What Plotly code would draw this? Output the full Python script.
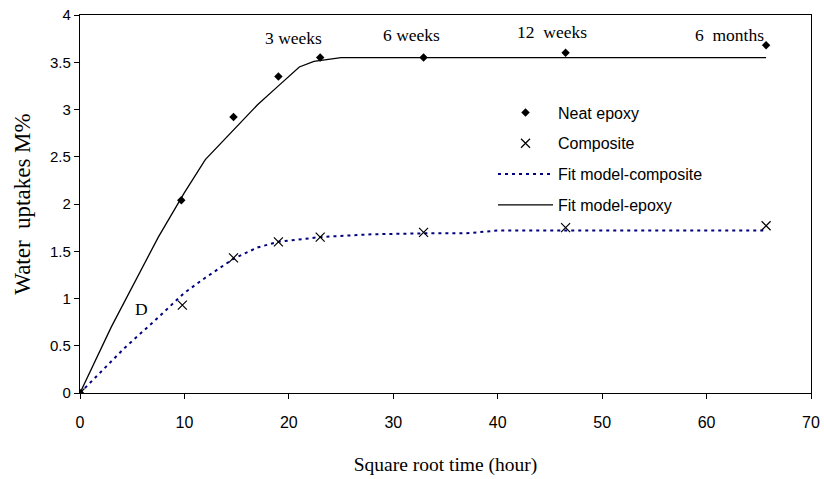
import plotly.graph_objects as go

# Measured data
epoxy_x = [0, 9.7, 14.7, 19.0, 23.0, 32.9, 46.5, 65.7]
epoxy_y = [0, 2.04, 2.92, 3.35, 3.55, 3.55, 3.60, 3.68]

comp_x = [0, 9.8, 14.7, 19.0, 23.0, 32.9, 46.5, 65.7]
comp_y = [0, 0.93, 1.43, 1.60, 1.65, 1.70, 1.75, 1.77]

# Fit curves
fit_epoxy_x = [0, 3, 7.5, 10, 12, 14.7, 17, 19, 21, 22.4, 25, 65.7]
fit_epoxy_y = [0, 0.70, 1.65, 2.12, 2.47, 2.78, 3.05, 3.25, 3.45, 3.51, 3.55, 3.55]

fit_comp_x = [0, 4.3, 7, 10, 12, 14.7, 17, 19, 23, 28, 33, 37, 40, 65.7]
fit_comp_y = [0, 0.48, 0.75, 1.06, 1.22, 1.42, 1.54, 1.60, 1.65, 1.68, 1.69, 1.69, 1.72, 1.72]

# Annotations
label_text = ["3 weeks", "6 weeks", "12  weeks", "6  months", "D"]
label_x = [17.5, 28.8, 41.7, 58.7, 5.1]
label_y = [3.76, 3.79, 3.82, 3.79, 0.89]

fig = go.Figure()

fig.add_trace(go.Scatter(
    x=fit_comp_x, y=fit_comp_y, mode="lines", name="Fit model-composite",
    line=dict(color="#000080", width=2, dash="3px,4px"),
    legendrank=3, legendgroup="c"))
fig.add_trace(go.Scatter(
    x=fit_epoxy_x, y=fit_epoxy_y, mode="lines", name="Fit model-epoxy",
    line=dict(color="black", width=1.3), legendrank=4, legendgroup="d"))
fig.add_trace(go.Scatter(
    x=epoxy_x, y=epoxy_y, mode="markers", name="Neat epoxy",
    marker=dict(symbol="diamond", size=6.5, color="black"),
    legendrank=1, legendgroup="a"))
fig.add_trace(go.Scatter(
    x=comp_x, y=comp_y, mode="markers", name="Composite",
    marker=dict(symbol="x-thin", size=9, color="black",
                line=dict(color="black", width=1.2)),
    legendrank=2, legendgroup="b"))

for t, x, y in zip(label_text, label_x, label_y):
    fig.add_annotation(x=x, y=y, text=t.replace("  ", "\u00a0 "), showarrow=False,
                       xanchor="left", yanchor="middle",
                       font=dict(family="Liberation Serif", size=17.5, color="black"))

fig.update_layout(
    width=824, height=479,
    margin=dict(l=80, r=13, t=15, b=86),
    paper_bgcolor="white", plot_bgcolor="white",
    showlegend=True,
    legend=dict(x=0.565, y=0.787, xanchor="left", yanchor="top",
                font=dict(family="Liberation Sans", size=16, color="black"),
                bgcolor="rgba(0,0,0,0)", itemwidth=55,
                traceorder="grouped", tracegroupgap=7),
    font=dict(family="Liberation Sans", color="black"),
)

fig.update_xaxes(
    range=[0, 70], tickvals=[0, 10, 20, 30, 40, 50, 60, 70],
    showline=True, linecolor="black", linewidth=1.3, mirror=True,
    ticks="outside", ticklen=5, tickcolor="black", showgrid=False, zeroline=False,
    automargin=False, ticklabelstandoff=10,
    tickfont=dict(family="Liberation Sans", size=16, color="black"),
    title=dict(text="Square root time (hour)", standoff=27,
               font=dict(family="Liberation Serif", size=19.5, color="black")))
fig.update_yaxes(
    range=[0, 4], tickvals=[0, 0.5, 1, 1.5, 2, 2.5, 3, 3.5, 4],
    showline=True, linecolor="black", linewidth=1.3, mirror=True,
    ticks="outside", ticklen=5, tickcolor="black", showgrid=False, zeroline=False,
    automargin=False,
    tickfont=dict(family="Liberation Sans", size=15, color="black"),
    title=dict(text="Water\u00a0 uptakes M%", standoff=12,
               font=dict(family="Liberation Serif", size=23, color="black")))

fig.write_html("out.html")
